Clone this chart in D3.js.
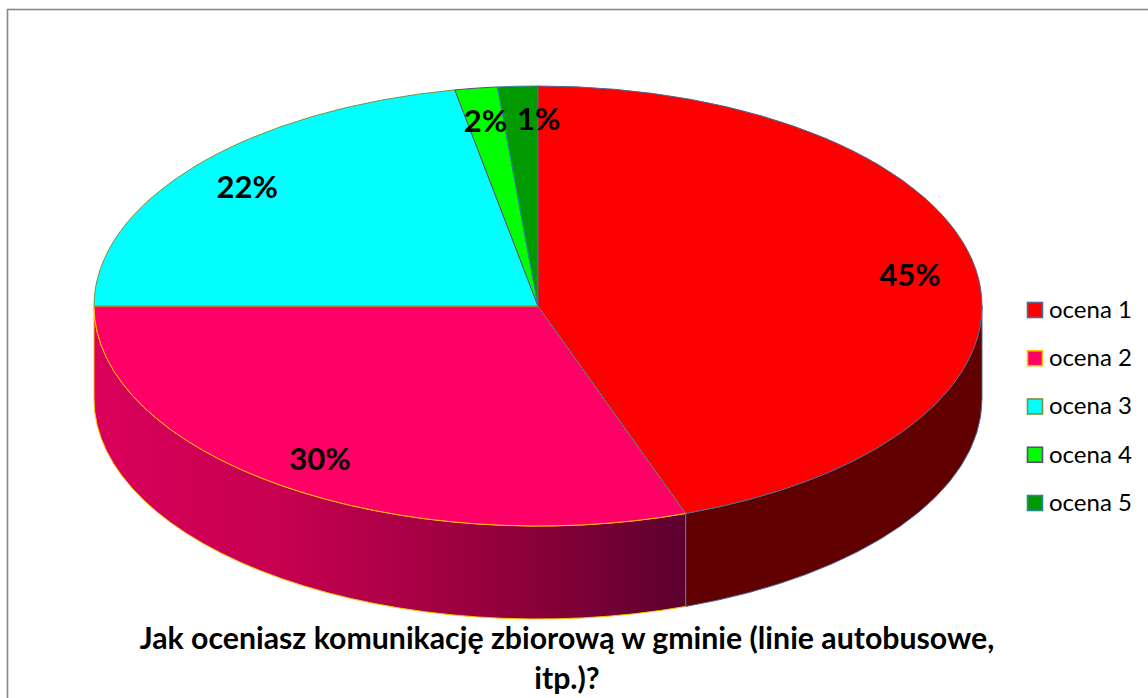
<!DOCTYPE html>
<html>
<head>
<meta charset="utf-8">
<script src="https://cdn.jsdelivr.net/npm/d3@7"></script>
<style>
  html, body { margin: 0; padding: 0; background: #fff; }
  svg { display: block; }
</style>
</head>
<body>
<svg id="chart" width="1148" height="698"></svg>
<script>
// Survey answers: rating of public transport in the commune (percent of respondents)
const categories = ["ocena 1", "ocena 2", "ocena 3", "ocena 4", "ocena 5"];
const values = [44.6, 30.4, 22.0, 1.55, 1.45];
const fillColors = ["#FF0000", "#FF0066", "#00FFFF", "#00FF00", "#009900"];
const edgeColors = ["#4F6A94", "#FFC000", "#77933C", "#604A7B", "#31859C"];
const titleLines = ["Jak oceniasz komunikację zbiorową w gminie (linie autobusowe,", "itp.)?"];

const svg = d3.select("#chart");
const W = 1148, H = 698;

// Chart frame
svg.append("rect")
  .attr("x", 7.5).attr("y", 9.5)
  .attr("width", W + 20).attr("height", H + 20)
  .attr("fill", "#fff")
  .attr("stroke", "#878787").attr("stroke-width", 1.6);

// 3D pie geometry (ellipse seen at an angle, extruded downwards)
const cx = 538, cy = 306, rx = 444, ry = 220, depth = 93;
const P = (a, dy = 0) => [cx + rx * Math.sin(a), cy - ry * Math.cos(a) + dy];
const pt = p => p[0].toFixed(2) + "," + p[1].toFixed(2);

const pie = d3.pie().sort(null).value(d => d.value).startAngle(0).endAngle(2 * Math.PI);
const arcs = pie(categories.map((c, i) => ({ name: c, value: values[i], i })));
// first slice is painted last so its outline sits on top of its neighbours
const paintOrder = arcs.slice(1).concat(arcs.slice(0, 1));

const defs = svg.append("defs");
// Shading of the pink wall: bright on the left, dark towards the front right
const grad = defs.append("linearGradient")
  .attr("id", "wall2").attr("gradientUnits", "userSpaceOnUse")
  .attr("x1", cx - rx).attr("x2", P(arcs[1].startAngle)[0])
  .attr("y1", 0).attr("y2", 0);
[[0, "#DA005B"], [0.32, "#C6004F"], [0.5, "#AE0047"], [0.72, "#8E0039"], [1, "#5C002F"]]
  .forEach(([o, c]) => grad.append("stop").attr("offset", o).attr("stop-color", c));

const wallFill = ["#600000", "url(#wall2)", "#00A0A0", "#009000", "#005000"];

// Side walls: only the front half (angles between 90° and 270°) is visible
const front0 = Math.PI / 2, front1 = 3 * Math.PI / 2;
const walls = svg.append("g");
paintOrder.forEach(a => {
  const s = Math.max(a.startAngle, front0), e = Math.min(a.endAngle, front1);
  if (e <= s) return;
  const d = "M" + pt(P(s)) +
    " A" + rx + "," + ry + " 0 0 1 " + pt(P(e)) +
    " L" + pt(P(e, depth)) +
    " A" + rx + "," + ry + " 0 0 0 " + pt(P(s, depth)) + " Z";
  walls.append("path")
    .attr("d", d)
    .attr("fill", wallFill[a.data.i])
    .attr("stroke", edgeColors[a.data.i])
    .attr("stroke-width", 1)
    .attr("stroke-linejoin", "round");
});

// Top faces
const tops = svg.append("g");
paintOrder.forEach(a => {
  const large = (a.endAngle - a.startAngle) > Math.PI ? 1 : 0;
  const d = "M" + pt([cx, cy]) + " L" + pt(P(a.startAngle)) +
    " A" + rx + "," + ry + " 0 " + large + " 1 " + pt(P(a.endAngle)) + " Z";
  tops.append("path")
    .attr("d", d)
    .attr("fill", fillColors[a.data.i])
    .attr("stroke", edgeColors[a.data.i])
    .attr("stroke-width", 1)
    .attr("stroke-linejoin", "round");
});

// Percentage labels, placed along each slice's mid angle
const labelG = svg.append("g")
  .attr("font-family", "Lato, 'Open Sans', sans-serif")
  .attr("font-weight", "bold")
  .attr("font-size", 31)
  .attr("fill", "#000")
  .attr("text-anchor", "middle");
const k = 0.85;
let prevRight = -Infinity, prevY = null;
arcs.forEach(a => {
  const mid = (a.startAngle + a.endAngle) / 2;
  let x = cx + rx * k * Math.sin(mid);
  const y = cy - ry * k * Math.cos(mid);
  const t = labelG.append("text")
    .attr("x", x).attr("y", y).attr("dy", "0.36em")
    .text(Math.round(a.data.value) + "%");
  const w = t.node().getComputedTextLength();
  // nudge a label sideways when it would collide with its neighbour
  if (prevY !== null && Math.abs(prevY - y) < 30 && x - w / 2 < prevRight + 10) {
    x = prevRight + 10 + w / 2;
    t.attr("x", x);
  }
  prevRight = x + w / 2;
  prevY = y;
});

// Legend
const legend = svg.append("g")
  .attr("font-family", "Lato, 'Open Sans', sans-serif")
  .attr("font-size", 24)
  .attr("fill", "#000");
const rowY = d3.scalePoint().domain(categories).range([310, 503]);
categories.forEach((c, i) => {
  const yy = rowY(c);
  legend.append("rect")
    .attr("x", 1027.5).attr("y", yy - 7.5)
    .attr("width", 15).attr("height", 15)
    .attr("fill", fillColors[i])
    .attr("stroke", edgeColors[i]).attr("stroke-width", 1.6);
  legend.append("text")
    .attr("x", 1049).attr("y", yy).attr("dy", "0.33em")
    .text(c);
});

// Title, two centred lines
const title = svg.append("g")
  .attr("font-family", "Lato, 'Open Sans', sans-serif")
  .attr("font-weight", "bold")
  .attr("fill", "#000")
  .attr("text-anchor", "middle");
const t1 = title.append("text").attr("x", 567).attr("y", 649).attr("font-size", 27).text(titleLines[0]);
const len = t1.node().getComputedTextLength();
const fs = 27 * 855 / len;
t1.attr("font-size", fs);
title.append("text").attr("x", 567).attr("y", 689).attr("font-size", fs).text(titleLines[1]);
</script>
</body>
</html>
